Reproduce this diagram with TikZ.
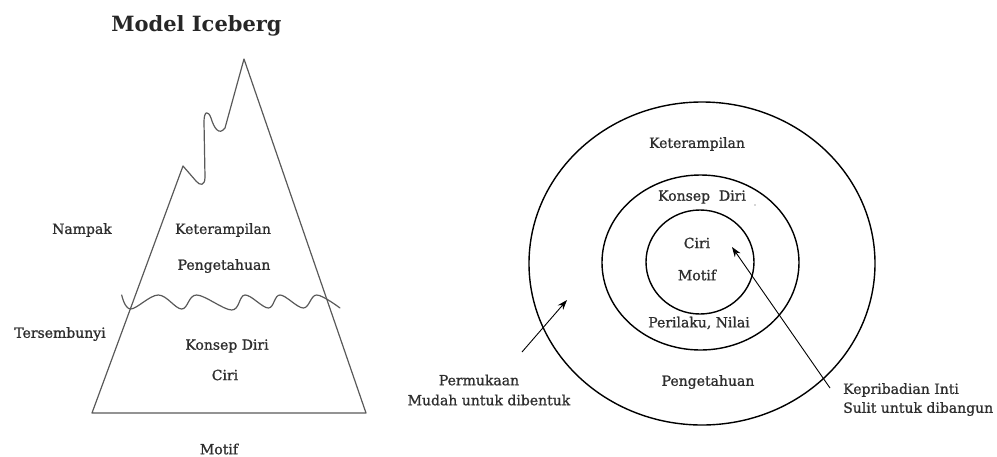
\documentclass[tikz,border=0pt]{standalone}
\usepackage{fontspec}
\setmainfont{DejaVu Serif}
\newfontfamily\semibfont{DejaVu Serif}[FakeBold=1.1]
\usetikzlibrary{arrows.meta,shapes.geometric}
\begin{document}
\begin{tikzpicture}[x=1pt,y=-1pt,
  lbl/.style={font=\semibfont\fontsize{14}{16}\selectfont, text=black!82, inner sep=0pt},
  ttl/.style={font=\fontsize{21}{26}\selectfont\bfseries, text=black!85, inner sep=0pt},
  ice/.style={draw=black!65, line width=1.2pt, line join=round, line cap=round},
  ring/.style={draw=black, line width=1.4pt, ellipse, inner sep=0pt},
  pointer/.style={draw=black, line width=0.9pt, -{Stealth[length=10pt,width=7pt]}}]
\useasboundingbox (0,0) rectangle (997,456);

% ---------------- Iceberg ----------------
\node[ttl] (title) at (196.5,26) {Model Iceberg};

\draw[ice] (92,413) -- (183,166)
  -- (196,181) .. controls (200,186) and (205,186) .. (205,177)
  -- (204,122) .. controls (204,111) and (208,110) .. (211,118)
  .. controls (214,128) and (219,136) .. (225,128) -- (244,59)
  -- (366,413) -- cycle;

\draw[ice] plot[smooth, tension=0.6] coordinates {
  (121.7,295) (130.7,309) (158.3,295) (181.7,309) (196.7,295) (231.7,310)
  (245,295) (268.3,308) (280,295) (303.3,308) (316.7,295) (340,308)};

\node[lbl] (nampak) at (82,230) {Nampak};
\node[lbl] (iket) at (223,230) {Keterampilan};
\node[lbl] (ipeng) at (224,266) {Pengetahuan};
\node[lbl] (tersem) at (60,334) {Tersembunyi};
\node[lbl] (ikons) at (227,346) {Konsep Diri};
\node[lbl] (iciri) at (225,375) {Ciri};
\node[lbl] (imotif) at (219,449) {Motif};

% ---------------- Circles ----------------
\node[ring, minimum width=346pt, minimum height=323pt] (outer) at (702,263.5) {};
\node[ring, minimum width=197pt, minimum height=175pt] (middle) at (700.5,262.5) {};
\node[ring, minimum width=108pt, minimum height=104pt] (inner) at (700,262) {};

\node[lbl] (cket) at (697,144) {Keterampilan};
\node[lbl] (ckons) at (702,197) {Konsep\ \ Diri};
\fill[black!70] (755,205) circle (0.7pt);
\node[lbl] (cciri) at (697,243) {Ciri};
\node[lbl] (cmotif) at (697,275) {Motif};
\node[lbl] (cperil) at (699,323) {Perilaku, Nilai};
\node[lbl] (cpeng) at (708,382) {Pengetahuan};

\node[lbl] (perm) at (479,380) {Permukaan};
\node[lbl] (mudah) at (489,400) {Mudah untuk dibentuk};
\node[lbl, anchor=west] (kepri) at (843,390) {Kepribadian Inti};
\node[lbl, anchor=west] (sulit) at (843,409) {Sulit untuk dibangun};

\coordinate (pa) at (522,352);
\coordinate (pb) at (567,300);
\coordinate (ka) at (830,388);
\coordinate (kb) at (732,247);
\draw[pointer] (pa) -- (pb);
\draw[pointer] (ka) -- (kb);
\end{tikzpicture}
\end{document}
